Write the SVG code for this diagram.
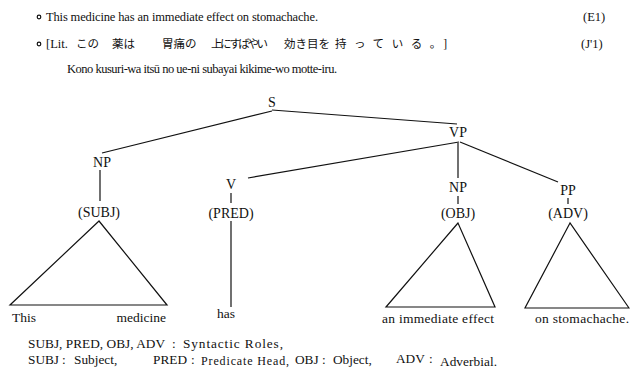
<svg xmlns="http://www.w3.org/2000/svg" width="630" height="375" viewBox="0 0 630 375">
<style>
text{font-family:"Liberation Serif","Times New Roman",serif;fill:#111}
.hdr{font-size:12.5px}
.jp{font-size:11.5px;font-family:"Liberation Serif","Noto Sans CJK JP",serif}
.lbl{font-size:14px;text-anchor:middle}
.leaf{font-size:13.5px}
.leg{font-size:13.3px}
.sm{font-size:12px}
line,polygon{stroke:#111;stroke-width:1.2;fill:none}
.bul{fill:#fff;stroke:#111;stroke-width:1.2}
</style>
<rect width="630" height="375" fill="#fff"/>
<g id="header">
<circle class="bul" cx="39" cy="17" r="1.8"/>
<text class="hdr" x="46" y="21" textLength="272">This medicine has an immediate effect on stomachache.</text>
<text class="hdr" x="583" y="21">(E1)</text>
<circle class="bul" cx="39" cy="44" r="1.8"/>
<text class="hdr" x="46" y="48">[Lit.</text>
<text class="jp" x="76" y="48">この</text>
<text class="jp" x="112" y="48">薬は</text>
<text class="jp" x="162" y="48">胃痛の</text>
<text class="jp" x="211" y="48" textLength="57">上にすばやい</text>
<text class="jp" x="284" y="48">効き目を</text>
<text class="jp" x="335" y="48" textLength="112">持っている。]</text>
<text class="hdr" x="581" y="48">(J'1)</text>
<text class="hdr" x="67" y="73" textLength="270">Kono kusuri-wa itsū no ue-ni subayai kikime-wo motte-iru.</text>
</g>
<g id="connectors">
<line x1="272" y1="111" x2="102" y2="153"/>
<line x1="272" y1="110" x2="457" y2="124"/>
<line x1="459" y1="142" x2="248" y2="178"/>
<line x1="458" y1="143" x2="458" y2="178"/>
<line x1="460" y1="142" x2="558" y2="182"/>
<line x1="100" y1="170" x2="100" y2="201"/>
<line x1="231" y1="193" x2="231" y2="203"/>
<line x1="458" y1="196" x2="458" y2="204"/>
<line x1="568" y1="198" x2="568" y2="204"/>
<line x1="231" y1="221" x2="231" y2="307"/>
</g>
<g id="S"><text class="lbl" x="272" y="107">S</text></g>
<g id="VP"><text class="lbl" x="458" y="137">VP</text></g>
<g id="NP-subj">
<text class="lbl" x="102" y="167">NP</text>
<text class="lbl" x="99" y="217">(SUBJ)</text>
<polygon points="99,221 10,305 167,305"/>
<text class="leaf" x="12" y="322">This</text>
<text class="leaf" x="166" y="322" text-anchor="end">medicine</text>
</g>
<g id="V-pred">
<text class="lbl" x="231" y="189">V</text>
<text class="lbl" x="231" y="218">(PRED)</text>
<text class="leaf" x="217" y="318">has</text>
</g>
<g id="NP-obj">
<text class="lbl" x="458" y="192">NP</text>
<text class="lbl" x="458" y="218">(OBJ)</text>
<polygon points="458,223 386,307 495,307"/>
<text class="leaf" x="382" y="323" textLength="112">an immediate effect</text>
</g>
<g id="PP-adv">
<text class="lbl" x="568" y="195">PP</text>
<text class="lbl" x="568" y="218">(ADV)</text>
<polygon points="570,223 525,308 629,308"/>
<text class="leaf" x="535" y="323" textLength="94">on stomachache.</text>
</g>
<g id="legend">
<text class="leg" x="28" y="348" textLength="137">SUBJ, PRED, OBJ, ADV</text>
<text class="leg" x="172" y="348">:</text>
<text class="leg" x="183" y="348" textLength="100">Syntactic Roles,</text>
<text class="leg" x="28" y="364">SUBJ</text>
<text class="leg" x="62" y="364">:</text>
<text class="leg" x="74" y="364">Subject,</text>
<text class="leg" x="153" y="364">PRED</text>
<text class="leg" x="191" y="364">:</text>
<text class="sm" x="201" y="365" textLength="88">Predicate Head,</text>
<text class="leg" x="295" y="364">OBJ</text>
<text class="leg" x="322" y="364">:</text>
<text class="leg" x="333" y="364">Object,</text>
<text class="leg" x="396" y="363">ADV</text>
<text class="leg" x="429" y="363">:</text>
<text class="leg" x="440" y="366" textLength="57">Adverbial.</text>
</g>
</svg>
